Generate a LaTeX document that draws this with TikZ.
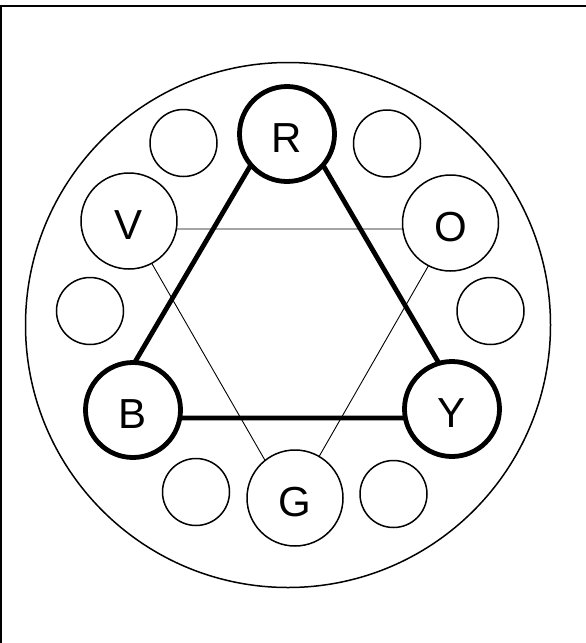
\documentclass[tikz,border=0pt]{standalone}
\usepackage{fontspec}
\setmainfont{Liberation Sans}
\begin{document}
\begin{tikzpicture}[x=1pt,y=-1pt,
  bigring/.style={circle,draw,line width=1.5pt,minimum size=525pt,inner sep=0pt},
  keyc/.style={circle,draw,fill=white,line width=4.8pt,minimum size=95pt,inner sep=0pt},
  midc/.style={circle,draw,fill=white,line width=1.5pt,minimum size=96pt,inner sep=0pt},
  smallc/.style={circle,draw,fill=white,line width=1.5pt,minimum size=67pt,inner sep=0pt},
  lbl/.style={font=\fontsize{42}{48}\selectfont,yshift=-4pt,inner sep=0pt},
  thickedge/.style={line width=4.8pt},
  thinedge/.style={line width=0.9pt},
  frameline/.style={line width=1.8pt}]
\useasboundingbox (0,0) rectangle (586,643);
% frame
\coordinate (f0) at (1,6);
\coordinate (f1) at (586,6);
\coordinate (f2) at (1,643);
\draw[frameline] (f1) -- (f0) -- (f2);
% outer ring
\node[bigring] (ring) at (288,325) {};
% triangle corners
\coordinate (tR) at (287,103.5);
\coordinate (tB) at (102,418);
\coordinate (tY) at (471,418);
\coordinate (tV) at (132,229);
\coordinate (tO) at (449.5,229);
\coordinate (tG) at (291,505.5);
\draw[thinedge] (tV) -- (tO) -- (tG) -- cycle;
\draw[thickedge] (tR) -- (tB) -- (tY) -- cycle;
% labelled circles
\node[keyc,label={[lbl]center:R}] (R) at (287,134) {};
\node[keyc,label={[lbl]center:B}] (B) at (133,410) {};
\node[keyc,label={[lbl]center:Y}] (Y) at (452,409) {};
\node[midc,label={[lbl]center:V}] (V) at (129,221) {};
\node[midc,label={[lbl]center:O}] (O) at (450.5,223) {};
\node[midc,label={[lbl]center:G}] (G) at (295,498) {};
% small circles
\node[smallc] (s1) at (183.5,143) {};
\node[smallc] (s2) at (387,143.5) {};
\node[smallc] (s3) at (90,311) {};
\node[smallc] (s4) at (490.5,311) {};
\node[smallc] (s5) at (196,492) {};
\node[smallc] (s6) at (393.5,494) {};
\end{tikzpicture}
\end{document}
